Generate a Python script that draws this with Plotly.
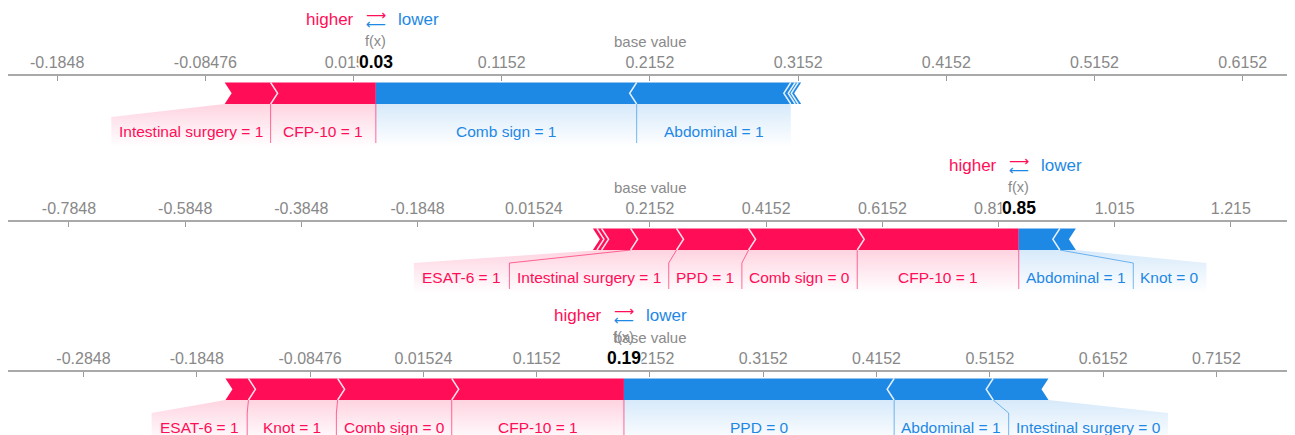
import plotly.graph_objects as go

# Expected model output shared by all three explanations
BASE_VALUE = 0.21524

# Explanation 1
p1_features = ["Intestinal surgery = 1", "CFP-10 = 1", "Comb sign = 1", "Abdominal = 1", None, None, None]
p1_shap = [0.031, 0.071, -0.176, -0.104, -0.003, -0.002, -0.002]
p1_tickvals = [-0.1848, -0.08476, 0.01524, 0.1152, 0.2152, 0.3152, 0.4152, 0.5152, 0.6152]
p1_ticktext = ["-0.1848", "-0.08476", "0.01524", "0.1152", "0.2152", "0.3152", "0.4152", "0.5152", "0.6152"]

# Explanation 2
p2_features = ["CFP-10 = 1", "Comb sign = 0", "PPD = 1", "Intestinal surgery = 1", "ESAT-6 = 1", None, None,
               "Abdominal = 1", "Knot = 0"]
p2_shap = [0.278, 0.187, 0.124, 0.079, 0.050, 0.008, 0.007, -0.0707, -0.0276]
p2_tickvals = [-0.7848, -0.5848, -0.3848, -0.1848, 0.01524, 0.2152, 0.4152, 0.6152, 0.8152, 1.015, 1.215]
p2_ticktext = ["-0.7848", "-0.5848", "-0.3848", "-0.1848", "0.01524", "0.2152", "0.4152", "0.6152", "0.8152",
               "1.015", "1.215"]

# Explanation 3
p3_features = ["CFP-10 = 1", "Comb sign = 0", "Knot = 1", "ESAT-6 = 1", "PPD = 0", "Abdominal = 1",
               "Intestinal surgery = 0"]
p3_shap = [0.152, 0.1007, 0.0787, 0.0203, -0.2385, -0.0874, -0.0488]
p3_tickvals = [-0.2848, -0.1848, -0.08476, 0.01524, 0.1152, 0.2152, 0.3152, 0.4152, 0.5152, 0.6152, 0.7152]
p3_ticktext = ["-0.2848", "-0.1848", "-0.08476", "0.01524", "0.1152", "0.2152", "0.3152", "0.4152", "0.5152",
               "0.6152", "0.7152"]

RED = (255, 13, 87)
BLUE = (30, 136, 229)
FONT = "Liberation Sans, Arial, sans-serif"
W, H = 1295, 435
PLOT_L, PLOT_R = 8, 1287
BASE_PX = 650
LABEL_SIZE = 15.5
LABEL_PAD = 15
TIP_PX = 7


def rgba(c, a):
    return f"rgba({c[0]},{c[1]},{c[2]},{a})"


ARIAL_W = {' ': 278, '-': 333, '=': 584, '.': 278, 'A': 667, 'C': 722, 'D': 722, 'E': 667, 'F': 611,
           'I': 278, 'K': 667, 'P': 667, 'S': 667, 'T': 611, 'a': 556, 'b': 556, 'd': 556, 'e': 556,
           'g': 556, 'i': 222, 'l': 222, 'm': 833, 'n': 556, 'o': 556, 'r': 333, 's': 500, 't': 278,
           'u': 556, 'y': 500}


def text_px(s, size):
    return sum(ARIAL_W.get(ch, 556) for ch in s) * size / 1000.0


panels = [
    dict(names=p1_features, shap=p1_shap, tickvals=p1_tickvals, ticktext=p1_ticktext, axis_px=75, ppu=1482),
    dict(names=p2_features, shap=p2_shap, tickvals=p2_tickvals, ticktext=p2_ticktext, axis_px=221, ppu=581),
    dict(names=p3_features, shap=p3_shap, tickvals=p3_tickvals, ticktext=p3_ticktext, axis_px=371, ppu=1133),
]

fig = go.Figure()
annotations = []


def poly(xs, ys, xr, **kw):
    fig.add_trace(go.Scatter(x=xs, y=ys, xaxis=xr, yaxis="y", mode="lines", hoverinfo="skip",
                             showlegend=False, **kw))


for k, p in enumerate(panels, start=1):
    xr = "x" if k == 1 else f"x{k}"
    axname = "xaxis" if k == 1 else f"xaxis{k}"
    s = p["ppu"]
    y0 = p["axis_px"]
    fx = BASE_VALUE + sum(p["shap"])
    tip = TIP_PX / s

    top, bot = y0 + 7.5, y0 + 29
    mid = (top + bot) / 2
    slant_y, region_bot, text_y = y0 + 42, y0 + 72, y0 + 56.5

    # stack features outward from f(x), biggest contribution closest to it
    pos = sorted([(v, n) for v, n in zip(p["shap"], p["names"]) if v > 0], key=lambda t: -t[0])
    neg = sorted([(v, n) for v, n in zip(p["shap"], p["names"]) if v < 0], key=lambda t: t[0])

    red, right, box_r = [], fx, fx
    for v, n in pos:
        seg = dict(a=right - v, b=right, name=n)
        if n is not None:
            w = max(v, (text_px(n, LABEL_SIZE) + LABEL_PAD) / s)
            seg["box"] = (box_r - w, box_r)
            box_r -= w
        red.append(seg)
        right -= v

    blue, left, box_l = [], fx, fx
    for v, n in neg:
        seg = dict(a=left, b=left - v, name=n)
        if n is not None:
            w = max(-v, (text_px(n, LABEL_SIZE) + LABEL_PAD) / s)
            seg["box"] = (box_l, box_l + w)
            box_l += w
        blue.append(seg)
        left -= v

    # label backings with a fading fill
    for segs, col in ((red, RED), (blue, BLUE)):
        for seg in segs:
            if "box" not in seg:
                continue
            bl, br = seg["box"]
            poly([seg["a"], seg["b"], br, br, bl, bl, seg["a"]],
                 [bot, bot, slant_y, region_bot, region_bot, slant_y, bot], xr,
                 line=dict(width=0), fill="toself",
                 fillgradient=dict(type="vertical", start=bot, stop=region_bot,
                                   colorscale=[[0, rgba(col, 0.18)], [0.6, rgba(col, 0.07)],
                                               [1, rgba(col, 0.0)]]))

    # connector lines between labels
    for i, seg in enumerate(red):
        if "box" in seg:
            br = seg["box"][1]
            poly([seg["b"], br, br], [bot, slant_y, region_bot - 4], xr,
                 line=dict(color=rgba(RED, 0.6), width=1))
    for i, seg in enumerate(blue):
        if "box" in seg and i > 0:
            bl = seg["box"][0]
            poly([seg["a"], bl, bl], [bot, slant_y, region_bot - 4], xr,
                 line=dict(color=rgba(BLUE, 0.6), width=1))

    # force bars
    for i, seg in enumerate(red):
        a, b = seg["a"], seg["b"]
        xs = [a, b] + ([b + tip] if i > 0 else []) + [b, a, a + tip, a]
        ys = [top, top] + ([mid] if i > 0 else []) + [bot, bot, mid, top]
        poly(xs, ys, xr, line=dict(width=0), fill="toself", fillcolor=rgba(RED, 1))
    for i, seg in enumerate(blue):
        a, b = seg["a"], seg["b"]
        xs = [a, b, b - tip, b, a] + ([a - tip] if i > 0 else []) + [a]
        ys = [top, top, mid, bot, bot] + ([mid] if i > 0 else []) + [top]
        poly(xs, ys, xr, line=dict(width=0), fill="toself", fillcolor=rgba(BLUE, 1))

    # chevron separators
    for seg in red[:-1]:
        poly([seg["a"], seg["a"] + tip, seg["a"]], [top, mid, bot], xr,
             line=dict(color="rgba(255,255,255,0.85)", width=1.5))
    for seg in blue[:-1]:
        poly([seg["b"], seg["b"] - tip, seg["b"]], [top, mid, bot], xr,
             line=dict(color="rgba(255,255,255,0.85)", width=1.5))

    # feature labels
    for segs, col in ((red, RED), (blue, BLUE)):
        for seg in segs:
            if "box" in seg:
                annotations.append(dict(x=sum(seg["box"]) / 2, y=text_y, xref=xr, yref="y", text=seg["name"],
                                        showarrow=False, font=dict(family=FONT, size=LABEL_SIZE, color=rgba(col, 1))))

    # header: higher / lower legend, f(x) and base value markers
    hy = y0 - 55.5
    annotations += [
        dict(x=fx, y=hy, xref=xr, yref="y", text="higher", xanchor="right", xshift=-20, showarrow=False,
             font=dict(family=FONT, size=17, color=rgba(RED, 1))),
        dict(x=fx, y=hy, xref=xr, yref="y", text="lower", xanchor="left", xshift=20, showarrow=False,
             font=dict(family=FONT, size=17, color=rgba(BLUE, 1))),
        dict(x=fx, y=hy, xref=xr, yref="y", text="⟶", yshift=4.5, showarrow=False,
             font=dict(family="DejaVu Sans", size=14, color=rgba(RED, 1))),
        dict(x=fx, y=hy, xref=xr, yref="y", text="⟵", yshift=-4.5, showarrow=False,
             font=dict(family="DejaVu Sans", size=14, color=rgba(BLUE, 1))),
        dict(x=BASE_VALUE, y=y0 - 34, xref=xr, yref="y", text="base value", showarrow=False,
             font=dict(family=FONT, size=15, color="#8a8a8a")),
        dict(x=fx, y=y0 - 34, xref=xr, yref="y", text="f(x)", showarrow=False,
             font=dict(family=FONT, size=14.5, color="#8a8a8a")),
        dict(x=fx, y=y0 - 13.5, xref=xr, yref="y", text=f"<b>{fx:.2f}</b>", showarrow=False,
             bgcolor="white", borderpad=0, font=dict(family=FONT, size=17.5, color="#000000")),
    ]

    axis = dict(
        domain=[0, 1], anchor="free", position=1 - y0 / H, side="top",
        range=[BASE_VALUE + (PLOT_L - BASE_PX) / s, BASE_VALUE + (PLOT_R - BASE_PX) / s],
        tickmode="array", tickvals=p["tickvals"], ticktext=p["ticktext"],
        ticks="inside", ticklen=5, tickwidth=1, tickcolor="#9a9a9a",
        showline=True, linecolor="#a9a9a9", linewidth=1.5,
        showgrid=False, zeroline=False, fixedrange=True,
        tickfont=dict(family=FONT, size=16, color="#888888"),
    )
    if k > 1:
        axis["overlaying"] = "x"
    fig.layout[axname] = axis

fig.update_layout(
    width=W, height=H,
    margin=dict(l=PLOT_L, r=W - PLOT_R, t=0, b=0),
    paper_bgcolor="white", plot_bgcolor="rgba(0,0,0,0)",
    showlegend=False,
    yaxis=dict(range=[H, 0], domain=[0, 1], visible=False, fixedrange=True),
    annotations=annotations,
)

fig.write_html("out.html")
